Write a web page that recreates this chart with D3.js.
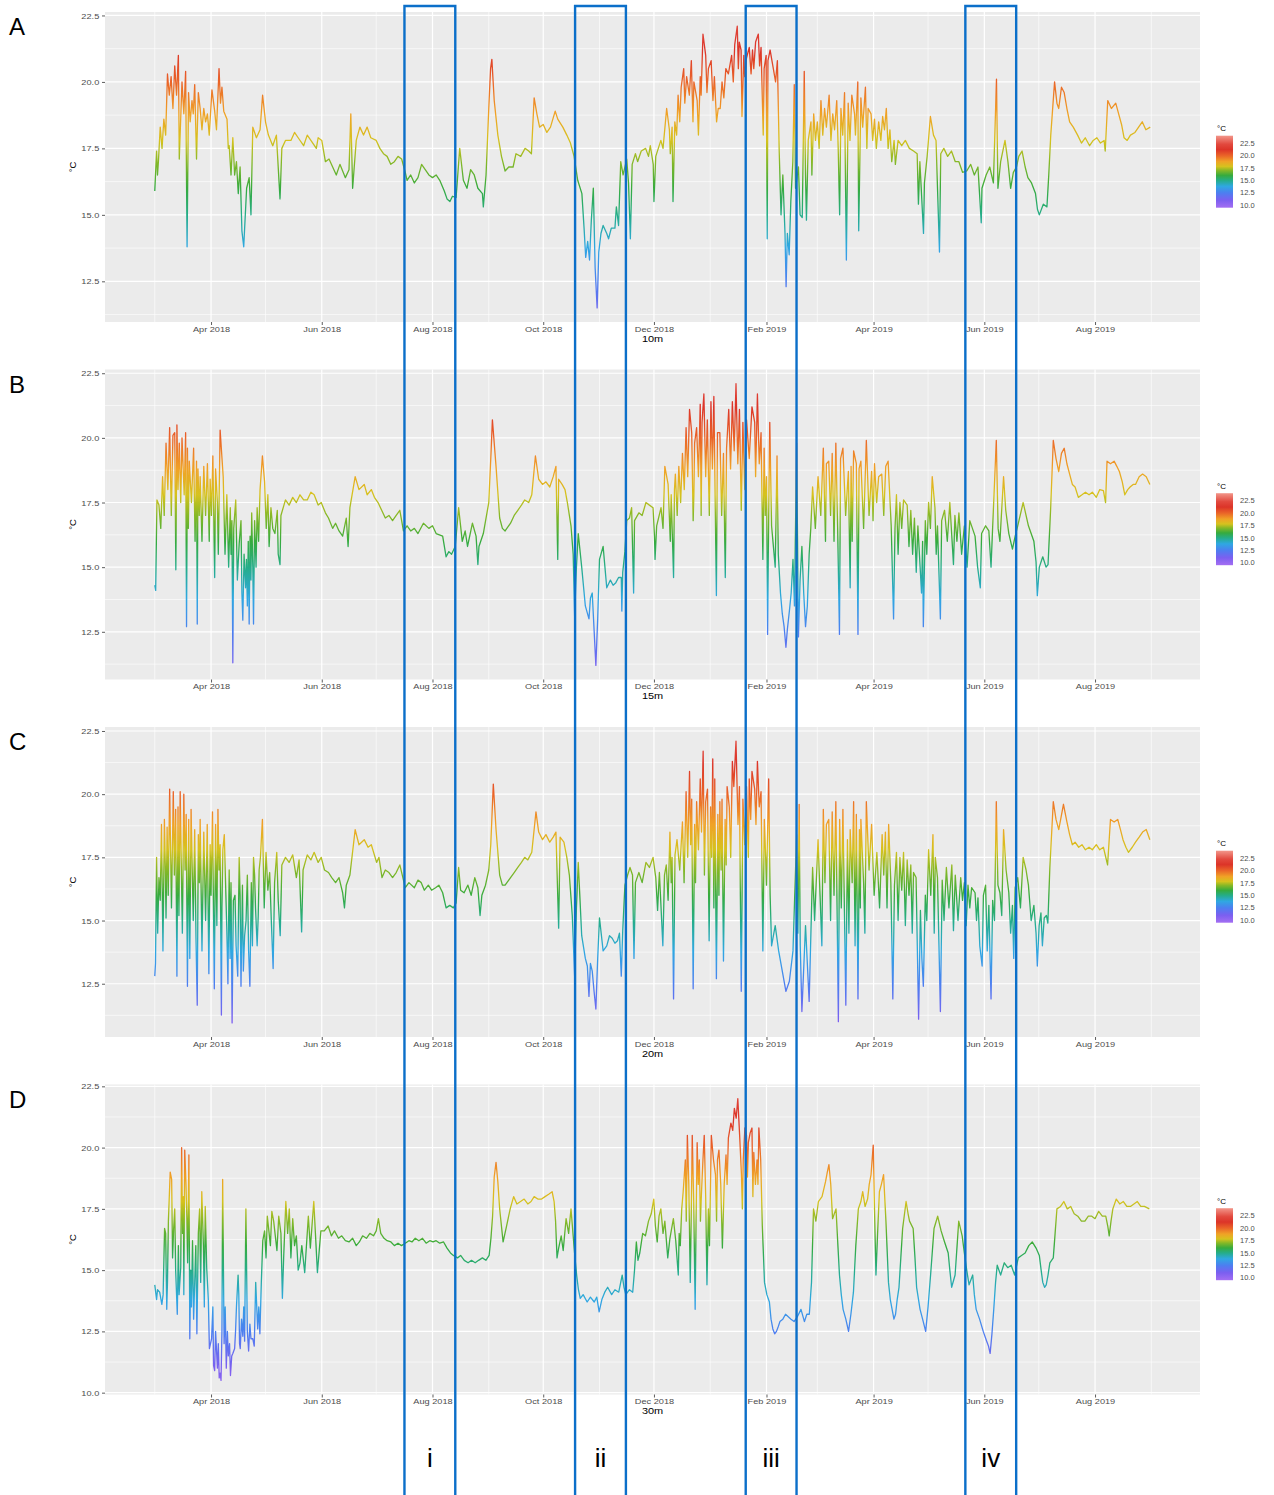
<!DOCTYPE html>
<html>
<head>
<meta charset="utf-8">
<script src="https://cdn.jsdelivr.net/npm/d3@7"></script>
<style>
  body { margin: 0; background: #fff; }
  svg text { font-family: "Liberation Sans", Arial, sans-serif; }
</style>
</head>
<body>
<svg id="chart" width="1274" height="1495"></svg>
<script>
// logger readings, [days since startDate, temperature in degC]
// (second half of each list: extra readings in the busy stretches; sorted before drawing)
var startDate = "2018-03-01";

var series10m = [[0,15.9],[1,17.4],[2,17.0],[3,18.3],[5,18.6],[7,20.3],[9,20.2],[11,20.6],[13,21.0],[13.5,17.1],[15,20.0],[17,20.4],[17.8,13.8],[18.6,19.6],[20.5,19.3],[22,19.9],[23,17.1],[24,19.6],[25,19.0],[27,19.0],[29,18.8],[31.5,19.7],[33,18.9],[35.4,20.5],[37,19.8],[38,18.9],[39.8,18.6],[41,17.6],[43,17.9],[45,17.0],[47,16.8],[48,14.4],[49,13.8],[50.6,16.0],[52,16.4],[53,15.0],[54,18.3],[56,17.9],[58,18.2],[59.4,19.5],[61,18.5],[62.6,18.0],[65,17.6],[67,18.0],[69,15.6],[70,17.5],[72,17.8],[75,17.8],[77,18.1],[79,17.9],[82,17.6],[84,18.0],[86,17.8],[89,17.5],[90,17.9],[92,17.8],[94,17.0],[96,17.1],[98,16.8],[100,16.5],[102,16.9],[105,16.4],[107,16.7],[108,18.8],[109,16.0],[111,17.8],[113,18.3],[115,18.0],[117,18.3],[119,17.9],[122,17.8],[124,17.5],[126,17.3],[128,17.2],[130,16.9],[132,17.0],[134,17.2],[136,17.1],[138,16.6],[139,16.3],[141,16.5],[143,16.2],[145,16.4],[147,16.9],[149,16.7],[151,16.5],[153,16.4],[155,16.5],[157,16.3],[159.5,15.9],[161,15.6],[162.6,15.5],[164,15.7],[166,15.65],[168,17.5],[170,16.3],[172,16.0],[174,16.7],[176,16.5],[178,16.0],[180.5,15.8],[181,15.3],[182.5,16.5],[184,19.0],[185,20.5],[185.7,20.85],[187,19.3],[189,18.0],[191,17.2],[193,16.65],[195,16.8],[197.4,16.8],[199,17.3],[201.6,17.2],[204,17.5],[206,17.4],[207.5,17.3],[209,19.4],[210.5,18.8],[212,18.3],[214,18.4],[216,18.1],[218,18.3],[220.6,18.9],[222,18.6],[224.8,18.3],[227,18.0],[229,17.7],[231,17.2],[233,16.3],[235.3,15.8],[236.5,14.5],[237.4,13.4],[238.5,14.0],[239.5,13.3],[240.5,14.8],[241.6,16.0],[242.6,13.0],[243.7,11.5],[244.6,13.6],[245.8,14.3],[247,14.6],[249,14.3],[250,14.1],[251.5,14.5],[253.5,14.5],[254.3,15.3],[255.5,14.6],[256.7,17.0],[258,16.5],[260,17.1],[261,16.2],[262,14.1],[263,16.9],[264.8,17.3],[266,17.0],[268,17.4],[270.4,17.5],[272,17.2],[273,17.6],[274.6,16.9],[275,15.5],[276,17.2],[278.8,17.8],[280,17.5],[282,19.0],[283.5,18.2],[285,18.3],[285.5,15.5],[286.5,18.5],[288.3,19.5],[290,19.8],[291.4,20.5],[293,20.2],[295.6,20.8],[297,20.0],[298.8,19.3],[299.5,18.0],[300.5,20.2],[302,21.8],[303.5,21.0],[305,20.5],[306.5,20.8],[308.3,20.2],[310.4,19.0],[312.5,20.0],[314.6,20.5],[316,20.3],[317.8,21.0],[319.5,21.4],[320.9,22.1],[322,21.5],[323,21.2],[323.5,18.7],[324.5,21.0],[326,20.9],[327.5,21.3],[329.3,21.2],[331,21.5],[332.5,21.8],[334,21.3],[335.2,18.0],[335.7,20.5],[336.8,21.0],[337.4,14.1],[337.8,20.8],[339,21.2],[340.5,20.6],[342,20.0],[343,20.8],[344,17.4],[346,16.5],[347.2,14.3],[347.8,12.3],[348.5,14.3],[350.4,15.5],[351.5,17.0],[352.3,19.9],[353,16.0],[354.6,16.8],[356.7,14.9],[357.8,20.4],[358.5,16.5],[360,17.8],[361.5,18.5],[363,18.8],[365,18.5],[367,19.3],[369,19.0],[371.5,19.5],[373.5,18.8],[375.7,19.3],[377.3,15.0],[378,19.0],[380,19.6],[381,13.3],[382,19.2],[384,19.5],[385.5,18.8],[387.3,20.0],[387.8,14.4],[389,19.4],[391.5,19.8],[393,19.0],[394.6,18.8],[396.5,18.6],[398.8,18.5],[401,18.7],[403,19.0],[405,18.2],[407.3,17.8],[408,16.9],[409.5,17.8],[411.5,17.6],[413.5,17.8],[415.7,17.5],[418,17.4],[420,17.3],[420.7,15.4],[421.5,17.0],[423.5,14.3],[424,16.2],[425.5,17.2],[427.3,18.7],[429,18.0],[430.4,17.8],[432.3,13.6],[433,17.3],[434.7,17.5],[436.8,17.2],[438.9,17.4],[441,17.0],[443,17.0],[445,16.6],[447.3,16.65],[449.5,16.9],[451.5,16.5],[453.5,16.8],[455.3,14.7],[455.7,16.0],[458,16.5],[460,16.8],[462,16.2],[463.7,20.1],[464.5,16.0],[466,17.0],[468.4,17.8],[470,17.0],[471.5,16.0],[473,16.6],[474.7,16.8],[476,17.2],[477.8,17.4],[479.5,16.8],[481,16.4],[483,16.2],[485.2,15.8],[486.3,15.2],[487.3,15.0],[489.5,15.4],[491.5,15.3],[492.5,16.5],[493.6,18.0],[495.7,20.0],[497,19.2],[498,19.0],[499.5,19.8],[501,19.6],[502.5,19.0],[504,18.5],[506,18.3],[508.4,18.0],[510.5,17.7],[512.6,17.9],[515,17.6],[517,17.8],[519,17.9],[521,17.7],[523,17.8],[523.6,17.4],[525,19.3],[527,19.0],[529.4,19.2],[531,18.8],[532.6,18.4],[534,17.9],[535.7,17.8],[537.5,18.0],[540,18.1],[542,18.3],[544,18.5],[546,18.2],[548.4,18.3],
  [1.5,16.5],[4,17.5],[6,18.0],[8,19.5],[10,19.0],[12,19.5],[16,18.8],[19.5,18.5],[21.2,18.8],[26,18.2],[28,18.5],[30,18.0],[34,18.2],[36.2,19.2],[40.5,17.5],[42,16.5],[44,16.5],[46,15.8],[284,17.3],[287.5,18.0],[289.2,18.5],[292,19.2],[294.5,19.5],[296.5,18.5],[301,19.5],[304.2,19.6],[307.5,19.3],[309.5,18.5],[311.5,19.0],[313.5,19.4],[318.7,20.0],[321.5,20.5],[325,20.2],[328.5,20.3],[330,20.5],[333.2,20.6],[345,15.0],[349.5,13.5],[355.5,15.0],[359,14.8],[362,16.5],[364,17.8],[366,17.5],[368,18.0],[370,18.3],[372.5,17.8],[374.5,18.2],[376.5,17.5],[379,18.0],[383,17.8],[386,18.0],[390,18.3],[392.3,17.5],[395.5,17.8],[397.5,17.5],[400,17.8],[402,18.2],[404,17.5],[406,17.0]];

var series15m = [[0,14.3],[0.5,14.1],[1.2,17.6],[2.3,17.4],[4.3,18.5],[6.2,19.8],[8.2,20.4],[10,20.1],[11,20.2],[11.6,14.9],[12.2,20.5],[13.5,19.8],[15,20.0],[17,20.2],[17.5,12.7],[18,19.6],[19,19.1],[21.4,19.6],[23,19.1],[23.4,12.8],[23.8,18.8],[25,18.5],[27,18.9],[29,19.0],[30.5,18.4],[32,19.3],[33,14.6],[33.5,18.8],[36,20.3],[37.7,18.5],[39.7,17.8],[41.6,17.3],[42.5,16.8],[43,11.3],[43.5,16.5],[44.6,17.6],[46.5,15.9],[47.5,16.8],[48.5,12.95],[49.2,15.5],[50.5,15.3],[51.5,16.0],[52,12.8],[52.5,16.2],[53.4,17.1],[54.4,12.8],[55,16.8],[56.4,17.3],[58,18.0],[59.3,19.3],[60.5,18.3],[62.3,17.8],[64,17.3],[66.2,16.3],[67.5,17.2],[69,15.1],[69.5,17.0],[72,17.6],[74,17.4],[76,17.7],[78,17.5],[80,17.8],[82,17.6],[84,17.6],[86,17.9],[87.8,17.8],[90,17.4],[91.7,17.5],[94,17.1],[95.7,16.9],[98,16.5],[99.6,16.7],[101.5,16.4],[103.5,16.2],[105.5,16.9],[106.5,15.8],[107.5,17.3],[110.4,18.5],[112.5,18.0],[115.4,18.2],[117,17.8],[119.3,18.0],[121,17.7],[123,17.5],[125,17.2],[127,16.9],[129,17.0],[131,16.8],[133,17.0],[135,17.2],[137,16.4],[139,16.6],[141,16.4],[143,16.5],[145,16.3],[148,16.7],[151,16.5],[153,16.6],[155,16.3],[158.6,16.2],[160.5,15.4],[162,15.6],[163.5,15.5],[165.5,15.8],[167.4,17.3],[169.4,16.0],[171,16.4],[172.3,15.8],[175,16.7],[177,16.2],[178,15.1],[178.6,15.8],[181,16.3],[184,17.5],[185.3,19.5],[186,20.7],[187,19.8],[188,18.9],[190,16.9],[191.5,16.5],[193,16.4],[196,16.7],[198,17.0],[200,17.2],[202,17.4],[203.8,17.6],[206,17.5],[207.7,17.8],[209.7,19.3],[211.5,18.4],[213.6,18.2],[215.5,18.3],[217.6,18.1],[219.5,18.5],[221,18.9],[222,15.3],[222.5,18.4],[224.4,18.2],[226,18.0],[227.3,17.5],[229.3,16.6],[230.5,15.5],[231.3,13.1],[232.3,15.0],[233.3,16.3],[235.2,15.0],[237.2,13.5],[239.2,13.0],[240,13.8],[241,14.0],[242,12.6],[243,11.2],[244,13.0],[245,15.3],[247,15.8],[249,14.2],[251,14.5],[252.5,14.3],[254,14.4],[255.5,14.6],[257,14.6],[257.3,13.3],[257.8,14.8],[259,15.6],[260,16.8],[261.5,16.9],[262.7,17.3],[263.8,14.0],[264.3,16.8],[266.7,17.1],[268.5,17.0],[270.6,17.5],[272.5,17.4],[274.5,17.3],[275.3,16.2],[275.6,15.3],[276.5,16.6],[278.9,17.3],[281,18.9],[282.8,18.2],[284.5,17.8],[285.8,14.6],[286.3,18.0],[286.8,18.6],[288.7,18.9],[290.7,19.4],[292.7,20.4],[294.6,21.1],[295.8,20.2],[296.6,16.8],[297.4,19.8],[298.5,20.4],[300.5,21.3],[301.5,20.6],[302.5,21.7],[304.4,20.7],[306.4,21.4],[308,21.6],[309.4,13.9],[310,20.2],[311.3,20.2],[313.3,19.4],[314.3,14.6],[315,19.6],[316.2,21.1],[318.2,21.4],[320.2,22.1],[322.1,21.1],[323.1,17.2],[324,20.6],[326,20.7],[329,21.2],[330.5,20.6],[332,21.7],[334,20.2],[335,15.3],[335.7,19.6],[337,18.5],[337.6,12.4],[338.2,17.0],[338.8,20.6],[339.8,16.6],[341.8,15.0],[342.8,19.3],[343.5,15.5],[344.7,14.0],[346.7,12.7],[347.7,11.9],[348.5,12.6],[349.6,13.3],[351.6,15.3],[352.4,13.5],[353.6,19.8],[354.6,12.3],[356.5,15.8],[358.5,12.7],[360.5,15.5],[362.4,18.1],[365.4,18.5],[368.3,19.6],[370,19.0],[371.3,19.1],[373.2,19.4],[375.2,19.8],[377.2,12.4],[377.8,19.2],[379.1,19.6],[382.1,18.7],[383.1,14.2],[383.6,18.9],[385,19.5],[386.5,19.0],[387.4,12.4],[388,18.8],[389,19.1],[392,19.9],[394.9,18.7],[396.5,19.0],[398.8,18.5],[400.5,18.6],[402.7,18.9],[404,19.1],[405.7,16.6],[407,13.0],[407.8,16.5],[408.6,17.8],[410.5,17.5],[412.5,17.6],[414.5,17.4],[416.5,17.2],[418.5,16.9],[420.4,16.6],[422.4,14.0],[423,16.0],[423.4,12.7],[424.5,16.8],[426.3,17.5],[428.3,18.5],[429.8,17.3],[431.2,16.6],[432.8,13.0],[433.5,16.8],[435.1,17.2],[438,17.5],[440,15.1],[440.8,17.0],[443,17.1],[446,16.6],[449,16.8],[451.9,16.2],[454.8,14.2],[455.5,16.3],[457.7,16.6],[459.5,16.4],[460.7,15.0],[461.5,16.4],[463.6,19.9],[464.6,16.5],[465.6,16.0],[467.6,18.5],[468.8,17.2],[470.5,16.3],[472.5,15.7],[474,16.2],[475.4,16.6],[478.4,17.5],[481.3,16.6],[484.3,16.0],[485.5,15.2],[486.2,13.9],[487.3,15.0],[489.2,15.4],[491,15.0],[492.1,15.1],[493.5,17.2],[495,19.9],[496.5,19.2],[498,18.7],[499.5,19.4],[501,19.6],[502.5,19.0],[504,18.6],[505.5,18.2],[507,18.1],[508.8,17.7],[510.8,17.8],[512.7,17.9],[514.7,17.8],[516.5,17.9],[518.7,17.7],[520.6,18.0],[522.6,17.96],[523.8,17.5],[524.6,19.1],[526.5,19.0],[528.5,19.1],[530,18.9],[531.4,18.7],[533,18.3],[534.4,17.8],[536,18.0],[537.3,18.1],[539,18.2],[540.3,18.2],[542.3,18.5],[544.2,18.6],[546.2,18.5],[548.2,18.2],
  [3.3,16.5],[5.2,17.0],[7.2,18.0],[9.1,17.0],[12.8,18.0],[14.3,17.5],[16.2,17.8],[18.5,16.5],[20.2,17.5],[22.2,16.0],[24.5,17.0],[26,16.0],[28,17.0],[30,16.0],[31.2,17.0],[34.5,17.5],[35,15.5],[38.7,15.5],[40.7,15.0],[42,15.5],[45.5,14.5],[48,14.0],[50,14.2],[51,13.5],[53,14.5],[54,15.0],[55.8,15.0],[57.2,16.0],[61.4,16.5],[63,15.8],[65,16.5],[68,15.5],[280,16.5],[284,16.0],[287.8,17.0],[289.7,17.5],[291.7,18.0],[293.6,18.5],[297,17.8],[299.5,18.5],[301,17.0],[303.5,18.5],[305.5,17.0],[307.2,18.8],[312.3,17.0],[317.2,18.8],[319.2,19.5],[321.2,19.0],[325,18.0],[327.5,19.2],[331,18.5],[333,19.0],[336.3,17.0],[345.7,13.2],[350.6,14.0],[355.5,14.5],[357.5,14.0],[359.5,13.5],[361.4,16.5],[363.9,16.5],[366.9,17.0],[369.5,16.0],[372.3,17.0],[374.2,16.0],[376.2,16.5],[380.6,17.0],[384.2,16.0],[390.5,16.5],[393.5,17.0],[395.7,16.8],[397.7,17.5],[401.6,17.0],[409.5,15.5],[411.5,16.5],[415.5,15.8],[417.5,15.5],[419.5,14.8],[425.3,15.5],[427.3,16.5],[430.5,15.5],[436.6,16.0],[441.9,16.0],[444.5,15.5],[447.5,15.0],[453.3,15.0]];

var series20m = [[0,12.8],[0.4,13.3],[1,17.5],[2.3,16.7],[3.7,18.8],[5.3,19.0],[6.2,15.1],[6.8,18.7],[8.2,20.2],[10.2,20.1],[11.5,19.4],[12.2,12.8],[12.8,19.5],[14,20.1],[16,20.0],[17.3,19.2],[18,12.4],[18.7,19.0],[20,19.4],[22,18.6],[23.4,11.65],[24,18.4],[25,19.0],[27,18.5],[28.9,18.8],[30.5,18.0],[31.8,19.3],[32.8,12.3],[33.5,18.8],[34.8,19.4],[36,18.0],[36.7,11.26],[37.5,17.8],[38.3,18.4],[39.7,14.6],[41,17.0],[42,16.5],[42.6,10.95],[43.3,15.8],[44.2,16.0],[46.5,17.5],[47.5,12.4],[48.3,16.4],[49.5,14.4],[51,16.8],[52.4,12.4],[53.2,16.5],[54.4,17.5],[55.5,15.5],[56.4,14.0],[57.5,17.0],[59.3,19.0],[61.3,17.7],[63.3,16.9],[65.2,13.1],[66,16.5],[67.2,17.7],[69.1,14.4],[70,17.2],[72,17.5],[74,17.3],[76,17.6],[78,16.7],[79.5,17.4],[80.9,14.55],[81.7,17.0],[84,17.6],[86,17.4],[87.8,17.7],[90,17.3],[91.7,17.5],[93.5,17.0],[95.7,16.9],[97.5,16.7],[99.6,16.5],[101.5,16.7],[103.5,16.1],[104.5,15.5],[105.5,16.4],[107.5,16.8],[110.4,18.6],[112.5,18.0],[115.4,18.2],[117.5,17.9],[119.3,18.0],[122.2,17.3],[123.5,17.5],[125.2,16.7],[127,17.0],[129,16.9],[131,16.7],[133,16.9],[135,17.2],[138,16.3],[140,16.5],[143,16.3],[145,16.6],[146.8,16.5],[148.5,16.2],[150.7,16.4],[152.5,16.2],[154.7,16.3],[156.5,16.4],[158.6,16.1],[160.5,15.5],[162.5,15.6],[164.5,15.5],[166,15.7],[167.4,17.1],[168.5,16.2],[170.4,16.1],[172.5,16.4],[174.3,16.0],[176.3,16.7],[178,16.3],[179.2,15.2],[180.2,16.0],[182.2,16.4],[184,17.0],[185.1,18.0],[186.5,20.4],[188,18.6],[190,16.8],[191.5,16.4],[193,16.4],[196,16.7],[198,16.9],[200,17.1],[202,17.3],[203.8,17.5],[205.5,17.4],[207.7,17.7],[210,19.3],[211.5,18.5],[213.6,18.2],[215.5,18.4],[217.6,18.1],[219.5,18.3],[221,18.5],[222.5,14.7],[223.3,18.3],[225.4,18.1],[227,17.5],[228.4,16.8],[230,15.2],[231.3,12.8],[232.3,15.5],[233.3,17.3],[235.2,14.4],[237.2,13.5],[238.3,13.2],[239.2,12.0],[240,13.3],[241,13.0],[242,12.2],[243,11.5],[244,13.5],[245,15.1],[247,13.8],[249,14.0],[250.5,14.4],[252,14.3],[253.5,14.1],[254.9,14.2],[256,14.5],[257,12.8],[257.8,14.6],[259,16.4],[260.5,16.8],[261.8,17.1],[263.2,16.8],[264,13.5],[264.8,16.5],[266.7,16.9],[268.5,16.5],[270.6,17.3],[272.5,17.1],[274.5,17.5],[276,16.7],[277,15.4],[278,16.9],[279.9,14.0],[280.8,16.8],[281.8,17.2],[283.8,18.5],[285,17.5],[285.8,11.9],[286.6,17.6],[287.7,18.2],[290.7,18.9],[292.7,20.1],[294.6,20.9],[295.8,19.8],[296.6,12.3],[297.4,18.8],[298.5,19.7],[300.5,20.6],[302.1,21.7],[303.5,19.7],[304.5,20.2],[305.4,14.2],[306.2,19.5],[307.4,21.4],[308.5,20.6],[309.4,12.7],[310.2,19.2],[311.3,19.7],[312.5,19.8],[313.3,13.4],[314.2,19.0],[315.3,20.3],[318.2,21.3],[320.2,22.1],[322.1,20.3],[323.1,12.2],[324,19.8],[326,20.3],[327.5,20.6],[329,20.9],[330.5,20.2],[332,21.3],[334,20.1],[335,13.8],[335.8,19.0],[337,16.4],[338.2,20.6],[339,16.0],[339.8,14.0],[341.8,14.8],[343.7,13.8],[345.7,13.0],[347.7,12.2],[349.6,12.6],[351.6,13.8],[353.6,18.4],[354.3,14.5],[355,19.6],[355.6,14.0],[356.5,11.4],[358.5,14.8],[360.5,11.8],[362.4,17.1],[365.4,18.2],[368.3,19.4],[370,18.8],[371.3,19.0],[373.2,19.3],[375.2,19.7],[376.6,11.0],[377.3,19.0],[379.1,19.4],[380.7,11.65],[381.6,18.2],[383.1,18.6],[385,19.7],[386.5,19.2],[387.4,11.9],[388.2,18.6],[389,19.0],[392,19.7],[394.9,18.8],[397.8,17.7],[400.7,18.4],[402.5,18.5],[404.3,18.8],[405.5,16.5],[406.6,11.9],[407.5,16.4],[408.6,17.7],[410.5,17.5],[412.5,17.7],[414.5,17.4],[416.5,17.2],[418,16.9],[419.4,16.7],[420.8,11.1],[421.8,15.4],[423.4,12.4],[424.5,16.0],[426.3,17.8],[428.7,18.4],[430,17.5],[431.2,16.7],[432.8,11.4],[433.8,16.6],[436.1,17.1],[439.1,17.2],[440,14.6],[441,16.8],[444,16.7],[446,16.5],[448,16.4],[450,16.3],[451.9,16.1],[453.5,15.9],[455.8,13.2],[456.5,16.0],[457.7,16.4],[459.5,15.6],[460.7,11.9],[461.6,15.8],[463.6,19.7],[464.5,16.4],[465.6,16.1],[467.6,18.6],[469,17.0],[470.5,16.1],[472.5,15.6],[474,16.3],[475.4,16.7],[478.4,17.5],[480,17.0],[481.3,16.4],[484.3,15.6],[485.5,14.5],[486.2,13.2],[487.2,14.8],[488.2,15.3],[490,15.1],[491.2,15.2],[492,14.9],[493.1,17.1],[495,19.7],[496.5,19.0],[498,18.6],[500.6,19.6],[502.5,18.9],[504,18.4],[505.5,18.0],[507,18.1],[509,17.9],[510.8,18.0],[512.7,17.8],[514.7,17.9],[516.5,17.8],[518.7,18.0],[520.6,17.8],[522.6,17.9],[524.9,17.2],[526.5,19.0],[528.5,18.9],[530.5,19.0],[532,18.6],[533.4,18.2],[535,17.9],[536.4,17.7],[538.5,17.9],[540.3,18.1],[542.3,18.3],[544.2,18.5],[546.2,18.6],[548.2,18.2],
  [1.6,14.5],[3.0,15.8],[4.5,13.8],[5.8,17.2],[7.4,16.0],[9.2,15.5],[10.8,16.8],[13.3,15.2],[15.2,14.5],[16.7,17.0],[19.3,13.5],[21.2,15.0],[22.7,14.3],[24.6,16.5],[26,13.8],[28,15.0],[29.8,12.9],[31,16.0],[34.2,14.8],[35.4,17.0],[37,15.5],[40.3,12.5],[41.5,13.5],[44.8,14.0],[45.7,12.8],[47,16.0],[48.8,13.0],[50.3,15.0],[51.7,13.8],[53.8,14.0],[55,16.8],[57,15.2],[58.2,17.5],[60.3,15.5],[62.3,16.2],[64.2,15.0],[68,15.8],[277.5,16.2],[282.8,15.8],[284.5,16.5],[289.2,17.0],[291.6,16.5],[293.6,17.5],[295.2,18.0],[297.9,16.5],[299.5,17.8],[301.2,18.5],[302.8,16.8],[306.8,17.5],[308,15.5],[310.8,16.0],[312,17.0],[314.8,17.2],[316.5,19.5],[317.3,17.5],[319,20.3],[321.3,18.8],[322.6,16.0],[325,18.0],[327,17.5],[328.3,19.0],[331.2,18.8],[333,19.5],[336.4,17.8],[363.5,15.0],[366.5,16.0],[367.5,14.0],[369.2,16.5],[372.3,15.0],[374.2,16.0],[378.2,15.5],[382.4,14.5],[384.2,16.5],[385.8,14.0],[388.7,15.5],[390.5,16.5],[391.2,14.5],[393.5,17.0],[396.3,16.0],[399.3,15.5],[401.6,16.8],[403.4,15.5],[409.5,15.0],[411.5,16.2],[413.5,14.8],[415.5,16.0],[417.3,14.5],[422.6,13.5],[425.3,15.0],[427.5,16.0],[429.4,14.5],[434.8,15.0],[437.5,15.5],[442.5,15.0],[445,15.8],[447,14.8],[449,15.5],[452.7,15.0],[454.5,14.0],[458.6,13.8],[462.6,15.0],[466.6,15.2],[471.5,14.5],[473.2,13.5],[476.9,15.5],[482.8,15.0],[489,14.0]];

var series30m = [[0,14.4],[1.5,14.2],[2.7,14.1],[3.9,13.6],[4.6,14.0],[5.4,16.7],[6,16.5],[6.6,13.4],[7.5,17.0],[8.5,19.0],[9.3,18.7],[10.4,16.7],[11.5,15.0],[12.4,13.2],[13.4,14.0],[14.3,15.1],[14.8,20.0],[15.8,18.0],[16.5,19.9],[17.2,18.5],[18.1,15.3],[18.8,19.7],[19.3,12.2],[20.2,13.5],[20.8,16.2],[22,14.5],[23.2,12.4],[24,16.5],[24.7,17.5],[25.9,18.2],[26.8,16.0],[27.8,17.6],[28.6,15.1],[29.5,13.8],[30.1,11.8],[31.3,12.2],[32.4,11.1],[33.5,12.5],[34.5,11.0],[35.5,10.6],[36.5,10.5],[37.4,18.7],[38.2,12.0],[39.4,11.0],[40.5,11.5],[41.7,10.7],[43,11.6],[44,11.8],[45,13.5],[45.9,14.8],[46.7,12.0],[47.1,11.8],[48.5,12.3],[49.5,12.1],[50.2,17.5],[51,12.5],[51.7,11.7],[53,12.2],[54,12.2],[55.6,14.5],[56.7,12.6],[57.9,12.4],[59.5,16.2],[60.5,16.6],[62,17.2],[63.7,16.0],[64.5,17.4],[65.5,17.0],[66.4,16.4],[68.3,17.2],[69.5,16.5],[70.3,13.85],[71,15.5],[72.2,17.8],[74.1,17.5],[76,17.1],[78,16.4],[80,15.3],[81,16.0],[82.6,14.9],[84.6,17.2],[85.7,15.9],[87.6,17.8],[88.5,16.5],[89.6,14.9],[91.5,16.6],[93.4,16.6],[95.5,16.8],[97.3,16.4],[99,16.6],[101.2,16.3],[103,16.4],[105,16.2],[107,16.15],[109,16.3],[111,16.0],[112.7,16.15],[114.5,16.4],[116.6,16.3],[118.5,16.5],[120.5,16.4],[122,16.6],[123.2,17.1],[124.5,16.5],[126.3,16.3],[128,16.2],[130.1,16.15],[132,16.0],[134,16.1],[135.9,16.0],[138,16.1],[140,16.2],[141.7,16.15],[143.5,16.3],[145.5,16.2],[147.5,16.3],[149.5,16.1],[151.5,16.2],[153.3,16.15],[155,16.2],[157,16.1],[159.1,16.15],[161,15.9],[162.9,15.7],[164.5,15.6],[166.8,15.5],[168.5,15.6],[170.5,15.4],[172.6,15.3],[174.5,15.4],[176.5,15.3],[178.4,15.4],[180.5,15.5],[182.4,15.4],[184.2,15.6],[185.2,16.3],[186.1,17.2],[187,18.8],[188,19.4],[189,18.6],[190,17.5],[191.9,16.15],[193.8,16.8],[195.8,17.5],[197.7,18.0],[199.5,17.7],[201.5,17.8],[203.5,17.9],[205.5,17.7],[207.3,17.8],[209,18.0],[211,17.9],[213.1,17.9],[215,18.0],[217,18.1],[218.9,18.2],[220,17.8],[220.8,17.0],[221.6,15.5],[222.5,15.9],[223.9,16.4],[225,15.8],[226.6,17.1],[228,16.5],[229.3,17.5],[230.5,16.4],[231.5,15.5],[232.4,14.8],[233.4,14.2],[234.4,13.85],[236,14.0],[238.2,13.7],[240,13.9],[242.1,13.7],[243.5,13.9],[244.8,13.3],[246.3,13.8],[247.9,14.1],[249.5,14.3],[251.7,14.0],[253.5,14.2],[255.6,14.1],[257.5,14.8],[258.5,14.3],[259.5,14.0],[261.5,14.2],[263.3,14.1],[264.3,15.0],[265.3,16.15],[266.2,15.4],[267.2,15.7],[268.8,16.5],[270.3,16.4],[272,17.0],[273.5,17.3],[274.9,17.9],[275.8,16.8],[276.8,16.15],[277.8,17.2],[278.8,17.5],[280,16.5],[281,17.0],[282.6,15.5],[283.8,16.3],[285.7,17.1],[287,16.2],[288.4,14.8],[289.5,16.0],[291.1,18.2],[292.3,19.5],[293.4,20.5],[294.2,18.5],[295,14.5],[295.6,17.5],[296.1,20.5],[296.9,17.8],[297.7,13.4],[298.2,17.0],[298.8,20.2],[300,19.5],[301.2,18.2],[302,19.5],[302.7,20.5],[303.5,18.0],[304.2,14.4],[305,17.5],[306.6,20.5],[307.8,19.5],[308.9,18.9],[310,19.5],[310.8,19.9],[311.8,18.5],[312.7,15.9],[313.7,18.5],[314.7,19.7],[316,20.4],[317.4,21.0],[318.4,20.7],[319.3,21.6],[320.3,21.2],[321.2,22.0],[322.2,20.5],[323.2,18.9],[324.2,19.5],[325.1,20.8],[326,20.5],[327,20.2],[328,20.6],[329,20.8],[330,19.8],[330.9,18.5],[331.8,19.5],[332.8,20.8],[333.8,19.5],[334.7,16.8],[335.9,14.5],[337.2,14.0],[338.6,13.7],[339.5,13.0],[340.5,12.6],[341.5,12.4],[342.5,12.5],[343.5,12.7],[344.4,12.9],[346,13.0],[347.5,13.2],[349,13.1],[350.5,13.0],[352.2,12.9],[354,13.1],[356,13.4],[357.9,12.9],[359.2,13.2],[360.6,13.2],[361.8,14.5],[362.9,17.5],[364.2,17.0],[365.6,17.8],[367.6,18.0],[369.5,18.6],[370.5,19.0],[371.4,19.3],[372.4,18.5],[373.4,17.1],[375.3,17.5],[376.2,16.2],[377.2,14.8],[378.2,14.0],[379.2,13.4],[380.7,13.0],[382.2,12.5],[383.5,13.2],[384.9,14.1],[386.2,16.0],[387.6,17.5],[389,17.8],[390,18.2],[391.3,17.6],[392.7,17.9],[393.6,18.5],[394.6,18.9],[395.8,20.1],[396.5,17.5],[397.3,14.8],[398.2,16.5],[399.2,18.2],[400.3,18.5],[401.5,18.9],[402.8,17.0],[404.2,14.5],[405.2,13.8],[406.2,13.4],[407.2,13.0],[408.1,13.2],[409,13.8],[410,14.3],[411,15.5],[412,16.7],[413.9,17.8],[415,17.3],[415.8,17.0],[417.8,16.7],[418.8,15.5],[419.7,14.3],[421.6,13.4],[423,13.0],[424.7,12.5],[426,13.5],[427.4,14.8],[428.4,15.8],[429.3,16.7],[431.3,17.2],[433.2,16.6],[435.1,16.15],[437.1,15.7],[438,15.0],[439,14.3],[440.9,14.8],[442,16.0],[442.9,17.0],[444.8,16.4],[446,15.7],[447.3,15.0],[448.6,14.4],[450.6,14.8],[451.5,14.0],[452.5,13.4],[454.4,13.0],[456.4,12.5],[458.3,12.1],[459.3,11.9],[460.2,11.6],[461.2,12.4],[462.2,13.4],[463.2,14.5],[464.1,15.2],[466,14.8],[468,15.3],[469.9,15.1],[471.8,15.2],[473.7,14.8],[475.7,15.5],[477.5,15.6],[479.5,15.7],[481.5,16.0],[483.4,16.15],[485.5,15.9],[487.3,15.6],[488.3,15.0],[489.2,14.5],[490.2,14.3],[491.1,14.4],[492.1,14.8],[493.1,15.3],[495,15.5],[496,16.5],[497,17.5],[499,17.6],[500.8,17.8],[502.7,17.5],[504.6,17.6],[506.5,17.3],[508.5,17.2],[510.5,17.0],[512.4,17.0],[514.3,17.2],[516.2,17.2],[518,17.1],[520,17.4],[522,17.2],[523.9,17.2],[525,16.8],[525.8,16.4],[526.8,17.0],[527.8,17.5],[529.7,17.9],[531.6,17.7],[533.6,17.8],[535.5,17.6],[537.5,17.6],[539.4,17.7],[541.3,17.8],[543.2,17.6],[545.2,17.6],[547.9,17.5],
  [1,13.8],[7,14.5],[9.8,15.5],[11,17.5],[13,16.0],[15.3,16.5],[16,14.0],[17.7,17.0],[19.8,15.0],[21.4,13.0],[22.6,16.0],[25.3,14.5],[27.3,13.5],[32,13.5],[33,10.9],[35,12.0],[36,10.8],[37,12.5],[38.8,13.5],[40,12.5],[41.2,12.0],[42.4,11.5],[44.5,12.5],[46.3,14.0],[47.8,13.0],[49,13.5],[52.4,12.8],[54.8,11.9],[57.3,13.5],[58.7,14.5],[61.3,15.5],[63,16.5],[67.3,15.8],[73.2,16.5],[75,15.5],[77,16.0],[79,15.0],[288.9,16.5],[290.3,17.5],[292.8,17.0],[299.4,18.5],[300.6,17.0],[305.6,16.0],[309.5,17.0],[315.3,18.5],[323.7,17.5],[326.5,18.8],[329.5,18.0],[332.3,18.5]];

var panelLetters = ["A", "B", "C", "D"];
var depthLabels = ["10m", "15m", "20m", "30m"];
var tickMonths = ["2018-04-01", "2018-06-01", "2018-08-01", "2018-10-01", "2018-12-01", "2019-02-01", "2019-04-01", "2019-06-01", "2019-08-01"];
var minorMonths = ["2018-03-01", "2018-05-01", "2018-07-01", "2018-09-01", "2018-11-01", "2019-01-01", "2019-03-01", "2019-05-01", "2019-07-01", "2019-09-01"];
var yBreaks = [22.5, 20.0, 17.5, 15.0, 12.5, 10.0];
var legendBreaks = [22.5, 20.0, 17.5, 15.0, 12.5, 10.0];
var legendLimits = [9.5, 24];
var colourTemps = [9.5, 11, 12.5, 13.8, 15, 16, 17, 17.8, 18.8, 20, 21.2, 22.3, 24];
var colourHex = ["#a46ef2", "#7b5ff0", "#4c7ff0", "#2fa8e2", "#25ad88", "#36ab3e", "#86b826", "#d6c21e", "#f0a226", "#ea6428", "#dc3428", "#e2493e", "#f2968a"];
var windowLabels = ["i", "ii", "iii", "iv"];
var windowStarts = ["2018-07-16", "2018-10-18", "2019-01-20", "2019-05-21"];
var windowEnds = ["2018-08-13", "2018-11-15", "2019-02-17", "2019-06-18"];

var seriesList = [series10m, series15m, series20m, series30m];

var svg = d3.select("#chart");
var plotLeft = 105, plotRight = 1200, firstTop = 12, panelStep = 357.5, panelH = 310;
var t0 = Date.parse(startDate + "T00:00:00Z");
function dayToDate(d) { return new Date(t0 + d * 864e5); }
function parseDay(s) { return new Date(s + "T00:00:00Z"); }

var allDays = [].concat.apply([], seriesList.map(function (s) { return s.map(function (p) { return p[0]; }); }));
var dMin = d3.min(allDays), dMax = d3.max(allDays), dPad = (dMax - dMin) * 0.05;
var x = d3.scaleUtc()
    .domain([dayToDate(dMin - dPad), dayToDate(dMax + dPad)])
    .range([plotLeft, plotRight]);

var colour = d3.scaleLinear().domain(colourTemps).range(colourHex);
var legendSpan = legendLimits[1] - legendLimits[0];
var defs = svg.append("defs");

// legend bar gradient (top = warm)
var lg = defs.append("linearGradient").attr("id", "legendGrad")
    .attr("x1", 0).attr("y1", 0).attr("x2", 0).attr("y2", 1);
colourTemps.slice().reverse().forEach(function (t) {
    lg.append("stop").attr("offset", (legendLimits[1] - t) / legendSpan).attr("stop-color", colour(t));
});

seriesList.forEach(function (series, k) {
    var top = firstTop + k * panelStep, bottom = top + panelH;
    series = series.slice().sort(function (a, b) { return a[0] - b[0]; });
    var ext = d3.extent(series, function (p) { return p[1]; });
    var yPad = (ext[1] - ext[0]) * 0.05;
    var y = d3.scaleLinear().domain([ext[0] - yPad, ext[1] + yPad]).range([bottom, top]);
    var g = svg.append("g");

    g.append("rect").attr("x", plotLeft).attr("y", top)
        .attr("width", plotRight - plotLeft).attr("height", panelH).attr("fill", "#ebebeb");

    // minor grid
    var yMinor = d3.range(11.25, 23, 2.5).filter(function (v) { return v > y.domain()[0] && v < y.domain()[1]; });
    g.selectAll(".ymin").data(yMinor).enter().append("line")
        .attr("x1", plotLeft).attr("x2", plotRight)
        .attr("y1", function (v) { return y(v); }).attr("y2", function (v) { return y(v); })
        .attr("stroke", "#fff").attr("stroke-width", 0.6);
    g.selectAll(".xmin").data(minorMonths.map(parseDay)).enter().append("line")
        .attr("x1", function (d) { return x(d); }).attr("x2", function (d) { return x(d); })
        .attr("y1", top).attr("y2", bottom)
        .attr("stroke", "#fff").attr("stroke-width", 0.6);

    // major grid
    var yTicks = yBreaks.filter(function (v) { return v >= y.domain()[0] && v <= y.domain()[1]; });
    g.selectAll(".ymaj").data(yTicks).enter().append("line")
        .attr("x1", plotLeft).attr("x2", plotRight)
        .attr("y1", function (v) { return y(v); }).attr("y2", function (v) { return y(v); })
        .attr("stroke", "#fff").attr("stroke-width", 1.2);
    g.selectAll(".xmaj").data(tickMonths.map(parseDay)).enter().append("line")
        .attr("x1", function (d) { return x(d); }).attr("x2", function (d) { return x(d); })
        .attr("y1", top).attr("y2", bottom)
        .attr("stroke", "#fff").attr("stroke-width", 1.2);

    // temperature line coloured by value
    var gid = "lineGrad" + k;
    var lgp = defs.append("linearGradient").attr("id", gid).attr("gradientUnits", "userSpaceOnUse")
        .attr("x1", 0).attr("x2", 0).attr("y1", y(legendLimits[1])).attr("y2", y(legendLimits[0]));
    colourTemps.slice().reverse().forEach(function (t) {
        lgp.append("stop").attr("offset", (legendLimits[1] - t) / legendSpan).attr("stop-color", colour(t));
    });
    var line = d3.line()
        .x(function (p) { return x(dayToDate(p[0])); })
        .y(function (p) { return y(p[1]); });
    g.append("path").datum(series).attr("d", line)
        .attr("fill", "none").attr("stroke", "url(#" + gid + ")")
        .attr("stroke-width", 1.3).attr("stroke-linejoin", "round");

    // axes
    var xAxis = g.append("g").attr("transform", "translate(0," + bottom + ")")
        .call(d3.axisBottom(x).tickValues(tickMonths.map(parseDay))
            .tickFormat(d3.utcFormat("%b %Y")).tickSize(3).tickPadding(2));
    var yAxis = g.append("g").attr("transform", "translate(" + plotLeft + ",0)")
        .call(d3.axisLeft(y).tickValues(yTicks).tickFormat(d3.format(".1f")).tickSize(3).tickPadding(2));
    [xAxis, yAxis].forEach(function (a) {
        a.select(".domain").remove();
        a.selectAll(".tick line").attr("stroke", "#333").attr("stroke-width", 0.8);
        a.selectAll(".tick text").attr("fill", "#4d4d4d").attr("font-size", "8px")
            .attr("font-family", "Liberation Sans, Arial, sans-serif")
            .attr("transform", "scale(1.15,1)");
    });
    xAxis.selectAll(".tick text").attr("dy", "0.6em");

    g.append("text").attr("x", (plotLeft + plotRight) / 2).attr("y", bottom + 20)
        .attr("text-anchor", "middle").attr("font-size", "9.5px").attr("fill", "#000")
        .attr("transform", "translate(" + (-0.15 * (plotLeft + plotRight) / 2) + ",0) scale(1.15,1)")
        .text(depthLabels[k]);
    g.append("text").attr("transform", "translate(76," + (top + panelH / 2) + ") rotate(-90)")
        .attr("text-anchor", "middle").attr("font-size", "9.5px").attr("fill", "#000")
        .text("\u00b0C");

    // legend
    var barTop = top + 123.7, barBottom = top + 195.7;
    var ly = d3.scaleLinear().domain(legendLimits).range([barBottom, barTop]);
    g.append("text").attr("x", 1217).attr("y", top + 119).attr("font-size", "8px").attr("fill", "#000").text("\u00b0C");
    g.append("rect").attr("x", 1216).attr("y", barTop).attr("width", 17).attr("height", barBottom - barTop)
        .attr("fill", "url(#legendGrad)");
    g.selectAll(".leg").data(legendBreaks).enter().append("text")
        .attr("x", 1240).attr("y", function (v) { return ly(v); }).attr("dy", "0.35em")
        .attr("font-size", "7.5px").attr("fill", "#4d4d4d")
        .text(d3.format(".1f"));

    svg.append("text").attr("x", 9).attr("y", top + 23).attr("font-size", "24px").attr("fill", "#000")
        .text(panelLetters[k]);
});

// highlighted windows
windowLabels.forEach(function (lab, i) {
    var xa = x(parseDay(windowStarts[i])) + 1, xb = x(parseDay(windowEnds[i])) + 1;
    svg.append("path").attr("d", "M" + xa + ",1500V6H" + xb + "V1500")
        .attr("fill", "none").attr("stroke", "#0b6fc9").attr("stroke-width", 2.4);
    svg.append("text").attr("x", (xa + xb) / 2).attr("y", 1467).attr("text-anchor", "middle")
        .attr("font-size", "26px").attr("fill", "#000").text(lab);
});
</script>
</body>
</html>
